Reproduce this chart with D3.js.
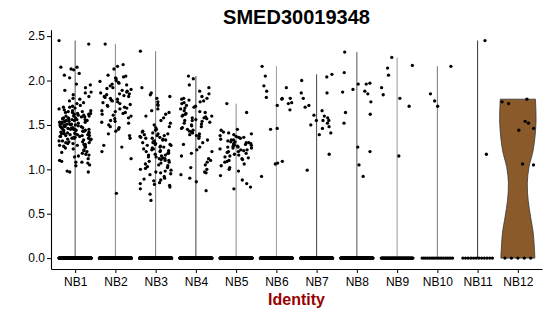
<!DOCTYPE html>
<html>
<head>
<meta charset="utf-8">
<script src="https://cdn.jsdelivr.net/npm/d3@7"></script>
<style>
body{margin:0;background:#fff}
text{font-family:"Liberation Sans",Arial,sans-serif}
</style>
</head>
<body>
<div id="chart"></div>
<script>
var categories = ["NB1","NB2","NB3","NB4","NB5","NB6","NB7","NB8","NB9","NB10","NB11","NB12"];

// non-zero expression values per cluster
var nb1 = [2.45,2.41,2.15,2.15,2.13,2.12,2.08,2.06,2.03,1.96,1.95,1.92,1.89,1.87,1.86,1.84,1.82,1.80,1.79,1.77,1.75,1.74,1.72,1.71,1.70,1.70,
  1.69,1.68,1.67,1.66,1.66,1.65,1.65,1.64,1.64,1.63,1.63,1.62,1.62,1.61,1.61,1.60,1.60,1.60,1.59,1.59,1.58,1.58,1.58,1.57,1.57,1.57,
  1.56,1.56,1.56,1.55,1.55,1.55,1.54,1.54,1.54,1.53,1.53,1.53,1.52,1.52,1.52,1.51,1.51,1.51,1.50,1.50,1.50,1.50,1.49,1.49,1.49,
  1.48,1.48,1.48,1.47,1.47,1.47,1.46,1.46,1.46,1.45,1.45,1.45,1.45,1.44,1.44,1.44,1.43,1.43,1.43,1.42,1.42,1.42,1.41,1.41,1.41,
  1.40,1.40,1.40,1.39,1.39,1.39,1.38,1.38,1.38,1.37,1.37,1.37,1.36,1.36,1.35,1.35,1.35,1.34,1.34,1.33,1.33,1.32,1.32,1.31,1.31,
  1.30,1.30,1.29,1.29,1.28,1.28,1.27,1.27,1.26,1.26,1.25,1.25,1.24,1.23,1.22,1.21,1.20,1.19,1.18,1.17,1.16,1.15,1.14,1.12,1.10,
  1.09,1.08,1.08,1.07,1.05,1.04,0.98,0.97,0.97];
var nb2 = [2.41,2.18,2.16,2.13,2.06,2.05,2.04,2.03,2.02,2.00,1.99,1.98,1.97,1.96,1.95,1.94,1.92,1.91,1.90,1.89,1.88,1.87,1.86,1.85,1.85,
  1.84,1.83,1.82,1.82,1.81,1.80,1.79,1.78,1.77,1.76,1.75,1.74,1.73,1.72,1.71,1.70,1.69,1.68,1.66,1.65,1.64,1.63,1.62,1.61,1.60,
  1.58,1.57,1.55,1.54,1.53,1.52,1.50,1.48,1.47,1.45,1.43,1.40,1.38,1.35,1.27,1.25,1.20,1.12,0.73];
var nb3 = [2.33,1.92,1.86,1.84,1.82,1.80,1.76,1.73,1.72,1.68,1.66,1.64,1.62,1.60,1.58,1.55,1.52,1.50,1.48,1.47,1.45,1.44,1.43,1.42,
  1.41,1.40,1.40,1.39,1.38,1.38,1.37,1.36,1.36,1.35,1.35,1.34,1.33,1.33,1.32,1.31,1.31,1.30,1.30,1.29,1.28,1.28,1.27,1.27,1.26,
  1.25,1.25,1.24,1.23,1.23,1.22,1.21,1.21,1.20,1.20,1.19,1.18,1.18,1.17,1.16,1.16,1.15,1.14,1.14,1.13,1.12,1.12,1.11,1.10,1.10,
  1.09,1.08,1.07,1.06,1.05,1.04,1.03,1.02,1.01,1.00,0.99,0.98,0.97,0.96,0.95,0.94,0.92,0.90,0.89,0.88,0.87,0.85,0.84,0.83,0.82,
  0.80,0.78,0.72,0.65];
var nb4 = [2.05,2.02,1.95,1.92,1.88,1.85,1.82,1.80,1.80,1.79,1.78,1.77,1.76,1.75,1.74,1.72,1.71,1.70,1.69,1.68,1.66,1.65,1.64,1.63,
  1.62,1.61,1.60,1.60,1.59,1.58,1.58,1.57,1.56,1.55,1.55,1.54,1.53,1.52,1.51,1.50,1.49,1.48,1.47,1.46,1.45,1.44,1.43,1.42,1.41,
  1.40,1.39,1.38,1.37,1.35,1.33,1.30,1.28,1.25,1.22,1.20,1.18,1.15,1.12,1.10,1.08,1.05,1.02,1.00,0.97,0.96,0.94,0.90,0.86,0.76];
var nb5 = [1.74,1.64,1.45,1.44,1.42,1.41,1.40,1.39,1.38,1.37,1.36,1.36,1.35,1.34,1.33,1.33,1.32,1.31,1.31,1.30,1.30,1.29,1.29,1.28,
  1.28,1.27,1.27,1.26,1.26,1.25,1.25,1.24,1.24,1.23,1.22,1.22,1.21,1.20,1.20,1.19,1.18,1.17,1.16,1.15,1.14,1.13,1.12,1.11,1.10,
  1.09,1.08,1.06,1.04,1.02,1.00,0.98,0.93,0.88,0.84,0.80,0.78];
var nb6 = [2.16,2.05,1.94,1.92,1.88,1.81,1.80,1.80,1.79,1.75,1.74,1.72,1.67,1.46,1.45,1.09,1.07,1.06,0.92];
var nb7 = [2.07,2.04,2.00,1.86,1.86,1.80,1.72,1.70,1.66,1.61,1.60,1.58,1.55,1.55,1.55,1.52,1.50,1.48,1.46,1.41,1.39,1.17,0.99];
var nb8 = [2.32,2.09,1.97,1.96,1.96,1.90,1.88,1.87,1.85,1.76,1.64,1.62,1.52,1.25,1.20,1.05,0.92];
var nb9 = [2.26,2.17,2.14,2.06,1.92,1.84,1.80,1.71,1.15];
var nb10 = [2.16,1.85,1.77,1.71];
var nb11 = [2.45,1.17];
var nb12 = [1.79,1.76,1.74,1.54,1.52,1.46,1.44,1.06,1.05];

// number of cells with zero expression in each cluster
var zeroCounts = [350,300,350,300,300,250,250,250,60,18,12,5];

var yTicks = [0,0.5,1,1.5,2,2.5];

// NB12 violin outline: expression level and relative half width
var nb12Levels = [0,0.28,0.47,0.65,0.84,1.02,1.22,1.52,1.79];
var nb12Widths = [0.94,0.85,0.70,0.57,0.52,0.61,0.85,1.0,0.97];

var lineColors = ["#555","#888","#777","#444","#888","#999","#444","#555","#999","#777","#333"];

var groups = [nb1,nb2,nb3,nb4,nb5,nb6,nb7,nb8,nb9,nb10,nb11,nb12];

var width = 550, height = 316;
var left = 51, right = 542, bottom = 269;

var svg = d3.select("#chart").append("svg")
    .attr("width",width)
    .attr("height",height);

var ymax = d3.max(groups,function(g){return d3.max(g);});
var pad = ymax*0.05;

var x = d3.scalePoint().domain(categories).range([left,right]).padding(0.6);
var step = x.step();
var y = d3.scaleLinear().domain([-pad,ymax+pad]).range([bottom,bottom-(ymax+2*pad)*88.8]);

// violins: thin lines for NB1-NB11
categories.forEach(function(c,i){
    if(i==11) return;
    svg.append("line")
        .attr("x1",x(c)).attr("x2",x(c))
        .attr("y1",y(0)).attr("y2",y(d3.max(groups[i])))
        .attr("stroke",lineColors[i])
        .attr("stroke-width",1);
});

var prof = nb12Levels.map(function(l,i){return {v:l,w:nb12Widths[i]};});
var hw = step*0.45;
var area = d3.area()
    .y(function(d){return y(d.v);})
    .x0(function(d){return x("NB12")-d.w*hw;})
    .x1(function(d){return x("NB12")+d.w*hw;})
    .curve(d3.curveCatmullRom);
svg.append("path")
    .attr("d",area(prof))
    .attr("fill","#8a5a2b")
    .attr("stroke","#333")
    .attr("stroke-width",0.8);

// horizontal jitter: fixed hash of the index, so the layout is the same every run
function jit(i,g){
    var h = Math.sin(i*12.9898 + g*78.233)*43758.5453;
    h = h - Math.floor(h);
    return (h - 0.5)*0.8*step;
}
var pts = [];
categories.forEach(function(c,g){
    var vals = groups[g];
    vals.forEach(function(v,i){ pts.push({c:c,v:v,dx:jit(i,g)}); });
    for(var k=0;k<zeroCounts[g];k++){
        pts.push({c:c,v:0,dx:((k+0.5)/zeroCounts[g]-0.5)*0.8*step});
    }
});
svg.append("g").selectAll("circle")
    .data(pts)
    .enter().append("circle")
    .attr("cx",function(d){return x(d.c)+d.dx;})
    .attr("cy",function(d){return y(d.v);})
    .attr("r",1.65)
    .attr("fill","#000");

// axes
var yAxis = d3.axisLeft(y).tickValues(yTicks).tickFormat(d3.format(".1f")).tickSize(4).tickSizeOuter(0).tickPadding(2);
var xAxis = d3.axisBottom(x).tickSize(4).tickSizeOuter(0).tickPadding(4.5);

var gy = svg.append("g").attr("transform","translate("+left+",0)").call(yAxis);
var gx = svg.append("g").attr("transform","translate(0,"+bottom+")").call(xAxis);
[gx,gy].forEach(function(g){
    g.selectAll("text").attr("font-size",12).attr("fill","#000")
        .style("font-family","'Liberation Sans',Arial,sans-serif");
    g.selectAll("line").attr("stroke","#000");
    g.select(".domain").attr("stroke","#000").attr("stroke-width",1.1);
});

svg.append("text")
    .attr("x",(left+right)/2).attr("y",24)
    .attr("text-anchor","middle")
    .attr("font-size",20).attr("font-weight","bold")
    .text("SMED30019348");

svg.append("text")
    .attr("x",(left+right)/2).attr("y",305)
    .attr("text-anchor","middle")
    .attr("font-size",16).attr("font-weight","bold")
    .attr("fill","#990000")
    .text("Identity");
</script>
</body>
</html>
